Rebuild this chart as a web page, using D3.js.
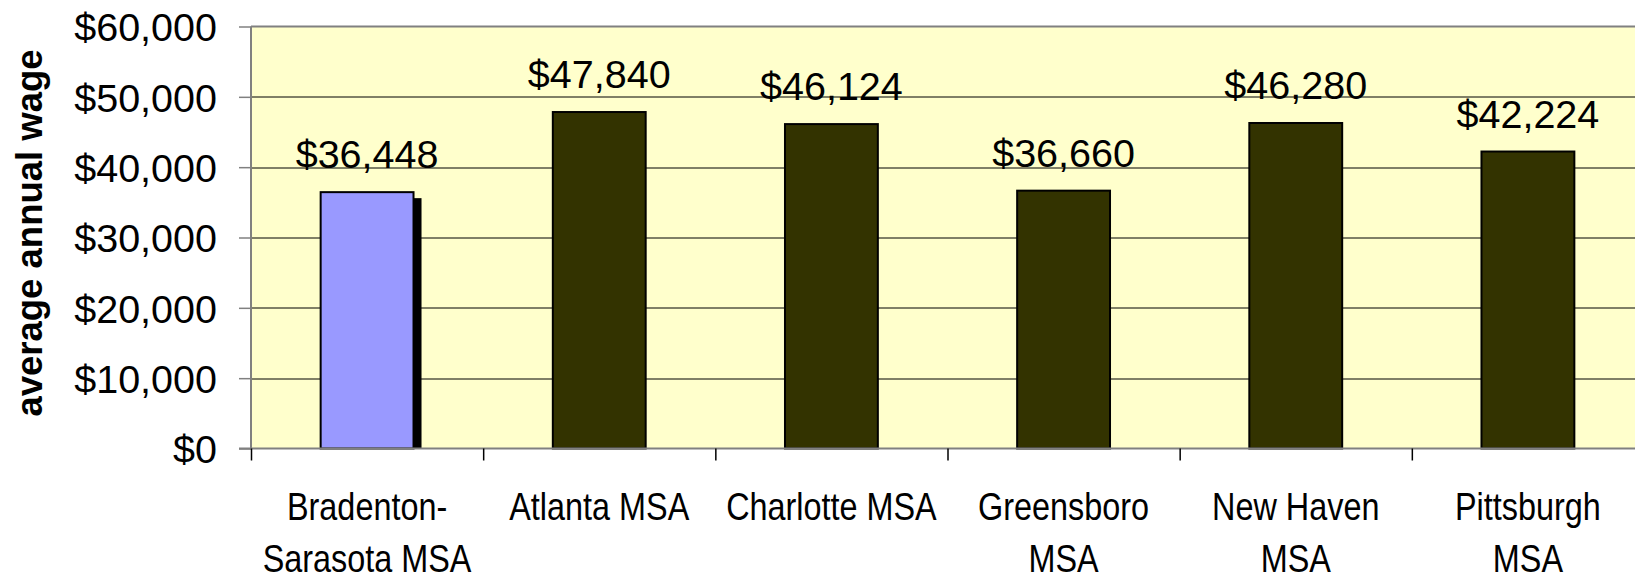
<!DOCTYPE html>
<html>
<head>
<meta charset="utf-8">
<script src="https://cdn.jsdelivr.net/npm/d3@7/dist/d3.min.js"></script>
<style>
  body { margin: 0; background: #ffffff; }
  svg { display: block; font-family: "Liberation Sans", Arial, sans-serif; }
</style>
</head>
<body>
<div class="wage_chart"></div>
<script>
// chart data
var categories = ["Bradenton-Sarasota MSA", "Atlanta MSA", "Charlotte MSA", "Greensboro MSA", "New Haven MSA", "Pittsburgh MSA"];
var labelLines = [["Bradenton-", "Sarasota MSA"], ["Atlanta MSA"], ["Charlotte MSA"], ["Greensboro", "MSA"], ["New Haven", "MSA"], ["Pittsburgh", "MSA"]];
var wages = [36448, 47840, 46124, 36660, 46280, 42224];
var yTicks = [0, 10000, 20000, 30000, 40000, 50000, 60000];
var highlighted = "Bradenton-Sarasota MSA";

var svgWidth = 1635;
var svgHeight = 576;

var margin = {
  top: 26.5,
  left: 251
};

// the plot runs past the right edge of the picture
var width = 1393;
var height = 422;

var svg = d3
  .select(".wage_chart")
  .append("svg")
  .attr("width", svgWidth)
  .attr("height", svgHeight);

var chartGroup = svg.append("g")
  .attr("transform", `translate(${margin.left}, ${margin.top})`);

var xBandScale = d3.scaleBand()
  .domain(categories)
  .range([0, width])
  .paddingInner(0.6)
  .paddingOuter(0.3);

// category boundaries for the tick marks
var xEdgeScale = d3.scaleLinear()
  .domain([0, categories.length])
  .range([0, width]);

var yLinearScale = d3.scaleLinear()
  .domain([0, 60000])
  .range([height, 0]);

var moneyFormat = d3.format("$,");

// plot background
chartGroup.append("rect")
  .attr("x", 0)
  .attr("y", 0)
  .attr("width", width)
  .attr("height", height)
  .attr("fill", "#ffffcc");

// gridlines
chartGroup.append("g")
  .selectAll("line")
  .data(yTicks.filter(d => d > 0 && d < 60000))
  .enter()
  .append("line")
  .attr("x1", 0)
  .attr("x2", width)
  .attr("y1", d => Math.round(yLinearScale(d)) + 0.5)
  .attr("y2", d => Math.round(yLinearScale(d)) + 0.5)
  .attr("stroke", "#000000")
  .attr("stroke-width", 1);

// top border
chartGroup.append("line")
  .attr("x1", 0)
  .attr("x2", width)
  .attr("y1", 0)
  .attr("y2", 0)
  .attr("stroke", "#808080")
  .attr("stroke-width", 2);

// shadow behind the highlighted bar
var clip = svg.append("clipPath")
  .attr("id", "plot-clip")
  .append("rect")
  .attr("width", width)
  .attr("height", height);

chartGroup.append("g")
  .attr("clip-path", "url(#plot-clip)")
  .selectAll("rect")
  .data(wages.filter((d, i) => categories[i] === highlighted))
  .enter()
  .append("rect")
  .attr("x", xBandScale(highlighted) + 8)
  .attr("y", d => yLinearScale(d) + 6)
  .attr("width", xBandScale.bandwidth())
  .attr("height", d => height - yLinearScale(d))
  .attr("fill", "#000000");

// bars
var barGroup = chartGroup.append("g")
  .selectAll("rect")
  .data(wages)
  .enter()
  .append("rect")
  .attr("x", (d, i) => xBandScale(categories[i]))
  .attr("y", d => yLinearScale(d))
  .attr("width", xBandScale.bandwidth())
  .attr("height", d => height - yLinearScale(d))
  .attr("fill", (d, i) => categories[i] === highlighted ? "#9999ff" : "#333300")
  .attr("stroke", "#000000")
  .attr("stroke-width", 2);

// value labels
chartGroup.append("g")
  .selectAll("text")
  .data(wages)
  .enter()
  .append("text")
  .attr("x", (d, i) => xBandScale(categories[i]) + xBandScale.bandwidth() / 2)
  .attr("y", d => yLinearScale(d) - 24)
  .attr("text-anchor", "middle")
  .style("font-size", "39.5px")
  .attr("fill", "#000000")
  .text(d => moneyFormat(d));

// y axis
var leftAxis = d3.axisLeft(yLinearScale)
  .tickValues(yTicks)
  .tickSize(12)
  .tickPadding(22)
  .tickFormat(moneyFormat);

var yAxis = chartGroup.append("g")
  .call(leftAxis);

yAxis.select(".domain")
  .attr("stroke", "#808080")
  .attr("stroke-width", 2)
  .attr("d", `M0,0V${height}`);

yAxis.selectAll(".tick line")
  .attr("stroke", "#808080")
  .attr("stroke-width", 1.5);

yAxis.selectAll(".tick text")
  .attr("fill", "#000000")
  .attr("dy", "0.36em")
  .style("font-family", "'Liberation Sans', Arial, sans-serif")
  .style("font-size", "39.5px");

// x axis, ticks sit between the categories
var bottomAxis = d3.axisBottom(xEdgeScale)
  .tickValues(d3.range(categories.length + 1))
  .tickSize(12)
  .tickFormat("");

var xAxis = chartGroup.append("g")
  .attr("transform", `translate(0, ${height})`)
  .call(bottomAxis);

xAxis.select(".domain")
  .attr("stroke", "#808080")
  .attr("stroke-width", 2)
  .attr("d", `M-12,0H${width}`);

xAxis.selectAll(".tick line")
  .attr("stroke", "#000000")
  .attr("stroke-width", 1.5);

// category labels, narrow type
var labelGroup = chartGroup.append("g")
  .selectAll("g")
  .data(labelLines)
  .enter()
  .append("g")
  .attr("transform", (d, i) => `translate(${xBandScale(categories[i]) + xBandScale.bandwidth() / 2}, ${height + 71.5})`);

labelGroup.append("text")
  .attr("text-anchor", "middle")
  .attr("transform", "scale(0.82, 1)")
  .style("font-size", "39.5px")
  .attr("fill", "#000000")
  .selectAll("tspan")
  .data(d => d)
  .enter()
  .append("tspan")
  .attr("x", 0)
  .attr("y", (d, i) => i * 52)
  .text(d => d);

// y axis title
svg.append("text")
  .attr("transform", "translate(42, 233) rotate(-90)")
  .attr("text-anchor", "middle")
  .style("font-size", "36.5px")
  .style("font-weight", "bold")
  .attr("fill", "#000000")
  .text("average annual wage");
</script>
</body>
</html>
